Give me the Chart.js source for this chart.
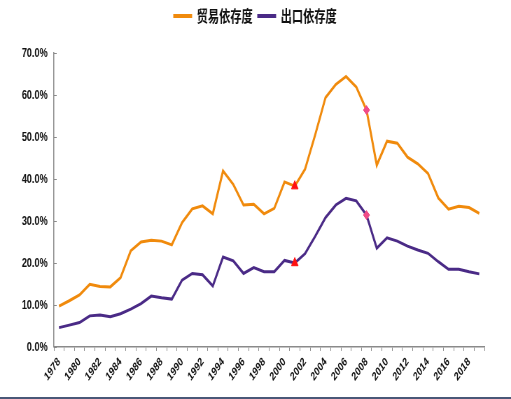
<!DOCTYPE html>
<html>
<head>
<meta charset="utf-8">
<script src="https://cdn.jsdelivr.net/npm/chart.js@4"></script>
<style>
  html, body { margin: 0; padding: 0; background: #fff; }
  #wrap { width: 511px; height: 397px; border-bottom: 2px solid #4a5878; position: relative; overflow: hidden; }
  /* the reference looks squeezed sideways, so draw wide and squeeze */
  #myChart { transform: scaleX(0.7); transform-origin: 0 0; }
</style>
</head>
<body>
<div id="wrap"><canvas id="myChart" width="730" height="397"></canvas></div>
<script>
// categories
const years = ['1978', '1979', '1980', '1981', '1982', '1983', '1984', '1985', '1986', '1987',
    '1988', '1989', '1990', '1991', '1992', '1993', '1994', '1995', '1996', '1997',
    '1998', '1999', '2000', '2001', '2002', '2003', '2004', '2005', '2006', '2007',
    '2008', '2009', '2010', '2011', '2012', '2013', '2014', '2015', '2016', '2017',
    '2018', '2019'];

// 贸易依存度 (%)
const trade_dep = [9.7, 11.0, 12.4, 14.9, 14.4, 14.3, 16.5, 22.9, 25.0, 25.4,
    25.2, 24.3, 29.6, 32.9, 33.6, 31.7, 41.9, 38.7, 33.8, 34.0,
    31.7, 33.0, 39.3, 38.3, 42.3, 50.6, 59.4, 62.5, 64.4, 61.9,
    56.4, 43.3, 49.0, 48.5, 45.2, 43.6, 41.3, 35.5, 32.8, 33.5,
    33.2, 31.8];

// 出口依存度 (%)
const export_dep = [4.6, 5.2, 5.8, 7.4, 7.6, 7.2, 7.9, 9.0, 10.3, 12.1,
    11.7, 11.4, 15.9, 17.5, 17.2, 14.5, 21.4, 20.5, 17.5, 18.9,
    17.9, 17.9, 20.6, 20.0, 22.2, 26.4, 30.8, 33.8, 35.4, 34.8,
    31.4, 23.5, 26.0, 25.2, 24.0, 23.1, 22.3, 20.3, 18.5, 18.5,
    17.9, 17.4];

// highlighted years
const triangle_year = '2001';
const diamond_year = '2008';

const y_ticks = [0, 10, 20, 30, 40, 50, 60, 70];

const point_style = years.map(y => y === triangle_year ? 'triangle' : (y === diamond_year ? 'rectRot' : 'circle'));
const point_radius = years.map(y => y === triangle_year ? 5.5 : (y === diamond_year ? 4.5 : 0));
const point_color = years.map(y => y === triangle_year ? '#ff1010' : '#f04c88');

const axisColor = '#8a8a8a';
const sans = "'Liberation Sans', Arial, sans-serif";

// little inward ticks on the y axis
const yInnerTicks = {
    id: 'yInnerTicks',
    afterDraw(chart) {
        const ys = chart.scales.y;
        const ctx = chart.ctx;
        ctx.save();
        ctx.strokeStyle = axisColor;
        ctx.lineWidth = 1;
        y_ticks.forEach(function(v) {
            const py = Math.round(ys.getPixelForValue(v)) + 0.5;
            ctx.beginPath();
            ctx.moveTo(ys.right, py);
            ctx.lineTo(ys.right + 4, py);
            ctx.stroke();
        });
        ctx.restore();
    }
};

// extra room under the legend
const legendSpace = {
    id: 'legendSpace',
    beforeUpdate(chart) {
        const lg = chart.legend;
        if (lg && !lg._spaced) {
            const fit = lg.fit;
            lg.fit = function() {
                fit.call(this);
                this.height += 19;
            };
            lg._spaced = true;
        }
    }
};

var ctx = document.getElementById('myChart').getContext('2d');
var chart = new Chart(ctx, {
    type: 'line',
    data: {
        labels: years,
        datasets: [
            {
                label: '贸易依存度',
                data: trade_dep,
                borderColor: '#f08a0c',
                backgroundColor: '#f08a0c',
                borderWidth: 3,
                tension: 0,
                pointStyle: point_style,
                pointRadius: point_radius,
                pointBackgroundColor: point_color,
                pointBorderColor: point_color,
                pointBorderWidth: 1
            },
            {
                label: '出口依存度',
                data: export_dep,
                borderColor: '#4a2a86',
                backgroundColor: '#4a2a86',
                borderWidth: 3,
                tension: 0,
                pointStyle: point_style,
                pointRadius: point_radius,
                pointBackgroundColor: point_color,
                pointBorderColor: point_color,
                pointBorderWidth: 1
            }
        ]
    },
    options: {
        responsive: false,
        animation: false,
        layout: { padding: { left: 0, right: 0, top: 0, bottom: 9 } },
        plugins: {
            tooltip: { enabled: false },
            legend: {
                position: 'top',
                labels: {
                    boxWidth: 24,
                    boxHeight: 1,
                    padding: 8,
                    color: '#111',
                    font: { family: "'Noto Sans CJK SC', sans-serif", size: 16, weight: 'bold' }
                }
            }
        },
        scales: {
            x: {
                offset: true,
                grid: {
                    display: true,
                    drawOnChartArea: false,
                    drawTicks: true,
                    tickLength: 4,
                    color: axisColor,
                    offset: true
                },
                border: { color: axisColor, width: 1.5 },
                ticks: {
                    autoSkip: false,
                    maxRotation: 45,
                    minRotation: 45,
                    padding: 4,
                    color: '#111',
                    font: { family: sans, size: 12, weight: 'bold' },
                    callback: function(val, idx) {
                        return idx % 2 === 0 ? years[idx] : '';
                    }
                }
            },
            y: {
                min: 0,
                max: 70,
                afterBuildTicks: function(axis) {
                    axis.ticks = y_ticks.map(v => ({ value: v }));
                },
                afterFit: function(axis) {
                    axis.width = 77;
                },
                grid: { display: false, drawTicks: false },
                border: { color: axisColor, width: 1.5 },
                ticks: {
                    padding: 9,
                    color: '#111',
                    font: { family: sans, size: 13, weight: 'bold' },
                    callback: function(v) { return v.toFixed(1) + '%'; }
                }
            },
            // empty right-hand space so the legend stays centred on the page
            yRight: {
                position: 'right',
                display: true,
                grid: { display: false, drawTicks: false },
                border: { display: false },
                ticks: { display: false },
                afterFit: function(axis) {
                    axis.width = 38;
                }
            }
        }
    },
    plugins: [yInnerTicks, legendSpace]
});
</script>
</body>
</html>
